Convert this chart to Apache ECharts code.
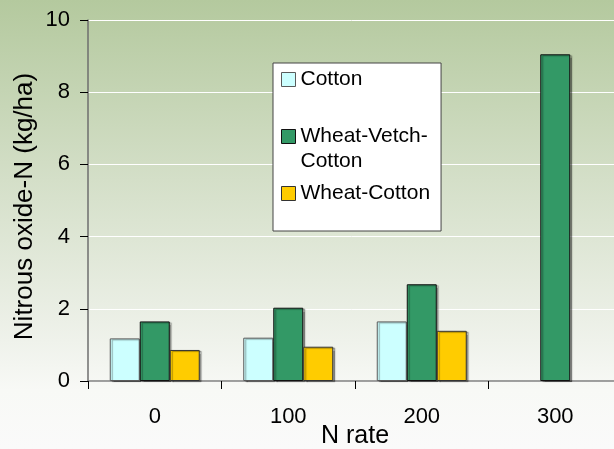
<!DOCTYPE html>
<html>
<head>
<meta charset="utf-8">
<script src="https://cdn.jsdelivr.net/npm/echarts@6/dist/echarts.min.js"></script>
<style>
  html, body { margin: 0; padding: 0; }
  #chart { width: 614px; height: 449px; }
</style>
</head>
<body>
<div id="chart"></div>
<script>
// N application rates (kg N/ha)
const nRates = ['0', '100', '200', '300'];
// Seasonal nitrous oxide-N emissions (kg/ha) per cropping system
const cotton = [1.18, 1.20, 1.65, null];
const wheatVetchCotton = [1.65, 2.03, 2.68, 9.05];
const wheatCotton = [0.86, 0.95, 1.39, null];
const yTicks = [0, 2, 4, 6, 8, 10];

const FONT = '"Liberation Sans", Arial, sans-serif';

const chart = echarts.init(document.getElementById('chart'), null, { renderer: 'canvas' });

function barSeries(name, data, fill, border) {
  return {
    name: name,
    type: 'bar',
    data: data,
    barWidth: 30,
    barGap: '0%',
    itemStyle: {
      color: fill,
      borderColor: border,
      borderWidth: 1,
      shadowColor: 'rgba(0,0,0,0.35)',
      shadowOffsetX: 2,
      shadowOffsetY: 1,
      shadowBlur: 1
    }
  };
}

chart.setOption({
  animation: false,
  backgroundColor: {
    type: 'linear', x: 0, y: 0, x2: 0, y2: 1,
    colorStops: [
      { offset: 0, color: '#b4c99e' },
      { offset: 0.4, color: '#d4dfc8' },
      { offset: 0.76, color: '#eff2eb' },
      { offset: 0.87, color: '#f8f9f6' },
      { offset: 1, color: '#fafafa' }
    ]
  },
  textStyle: { fontFamily: FONT },
  grid: { left: 88, right: -8, top: 20, bottom: 68, containLabel: false, outerBoundsMode: 'none' },
  legend: {
    orient: 'vertical',
    left: 273,
    top: 63,
    icon: 'rect',
    itemWidth: 14,
    itemHeight: 14,
    itemGap: 7,
    backgroundColor: '#ffffff',
    borderColor: '#444444',
    borderWidth: 1,
    borderRadius: 0,
    padding: [4, 11, 25, 8],
    textStyle: { fontFamily: FONT, fontSize: 21, color: '#000', lineHeight: 25 },
    itemStyle: { borderWidth: 1 },
    formatter: function (name) {
      return name === 'Wheat-Vetch-Cotton' ? '\nWheat-Vetch-\nCotton' : name;
    },
    data: ['Cotton', 'Wheat-Vetch-Cotton', 'Wheat-Cotton']
  },
  xAxis: {
    type: 'category',
    data: nRates,
    boundaryGap: true,
    name: 'N rate',
    nameLocation: 'middle',
    nameGap: 43,
    nameMoveOverlap: false,
    nameTextStyle: { fontFamily: FONT, fontSize: 25, color: '#000' },
    axisLine: { lineStyle: { color: '#808080', width: 1.5 } },
    axisTick: { show: true, length: 8, alignWithLabel: false, lineStyle: { color: '#000', width: 1 } },
    axisLabel: { fontFamily: FONT, fontSize: 22, color: '#000', margin: 25 },
    splitLine: { show: false }
  },
  yAxis: {
    type: 'value',
    min: 0,
    max: 10,
    interval: 2,
    name: 'Nitrous oxide-N (kg/ha)',
    nameLocation: 'middle',
    nameGap: 50,
    nameMoveOverlap: false,
    nameTextStyle: { fontFamily: FONT, fontSize: 26, color: '#000', padding: [0, 12, 0, 0] },
    axisLine: { show: true, lineStyle: { color: '#6e6e6e', width: 1.5 } },
    axisTick: { show: true, length: 8, lineStyle: { color: '#000', width: 1 } },
    axisLabel: {
      fontFamily: FONT, fontSize: 22, color: '#000', margin: 18,
      formatter: function (v) { return yTicks.indexOf(v) >= 0 ? String(v) : ''; }
    },
    splitLine: { show: true, lineStyle: { color: '#ffffff', width: 1 } }
  },
  series: [
    barSeries('Cotton', cotton, '#ccffff', '#5a5a5a'),
    barSeries('Wheat-Vetch-Cotton', wheatVetchCotton, '#339966', '#111111'),
    barSeries('Wheat-Cotton', wheatCotton, '#ffcc00', '#333333')
  ]
});
</script>
</body>
</html>
